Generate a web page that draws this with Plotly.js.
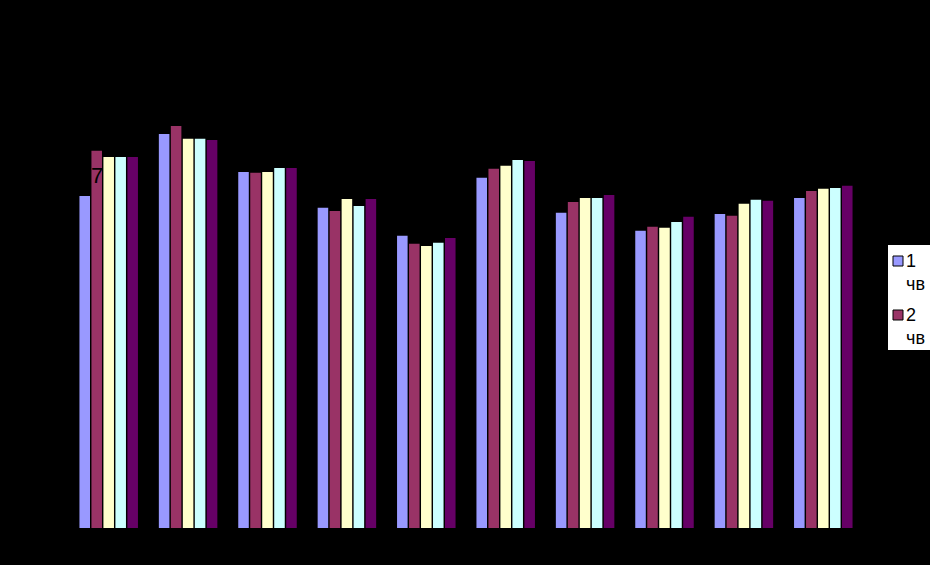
<!DOCTYPE html>
<html>
<head>
<meta charset="utf-8">
<script src="https://cdn.plot.ly/plotly-3.0.1.min.js"></script>
<style>html,body{margin:0;padding:0;background:#000;}</style>
</head>
<body>
<div id="chart" style="width:930px;height:565px;"></div>
<script>
const categories = ["1", "2", "3", "4", "5", "6", "7", "8", "9", "10"];
const seriesNames = ["1<br>чв", "2<br>чв", "3<br>чв", "4<br>чв", "год"];
const s1 = [7.50, 8.90, 8.04, 7.23, 6.60, 7.91, 7.12, 6.71, 7.09, 7.45];
const s2 = [8.52, 9.08, 8.02, 7.16, 6.42, 8.11, 7.36, 6.80, 7.05, 7.61];
const s3 = [8.38, 8.79, 8.04, 7.43, 6.37, 8.18, 7.45, 6.78, 7.32, 7.66];
const s4 = [8.38, 8.79, 8.13, 7.27, 6.44, 8.31, 7.45, 6.91, 7.41, 7.68];
const s5 = [8.38, 8.76, 8.13, 7.43, 6.55, 8.29, 7.52, 7.03, 7.39, 7.73];
const colors = ["#9999FF", "#993366", "#FFFFCC", "#CCFFFF", "#660066"];
const allSeries = [s1, s2, s3, s4, s5];

const traces = allSeries.map((vals, i) => ({
  type: "bar",
  x: categories,
  y: vals,
  name: seriesNames[i],
  marker: { color: colors[i], line: { width: 0 } },
  showlegend: false
}));

// plot area in pixels: x 69..863, y 40..528
const PL = 69, PW = 794, PB = 528, PH = 488;
const px = v => (v - PL) / PW;
const py = v => (PB - v) / PH;

const legendFont = { family: "Liberation Sans, Arial, sans-serif", size: 18, color: "#000000" };
const shapes = [
  { type: "rect", xref: "paper", yref: "paper", layer: "above",
    x0: px(888), x1: px(940), y0: py(350), y1: py(245),
    fillcolor: "#FFFFFF", line: { width: 0 } }
];
const annotations = [{
  x: -0.145, y: 7.95, xref: "x", yref: "y",
  text: "7", showarrow: false,
  font: { family: "Liberation Sans, Arial, sans-serif", size: 22, color: "#000000" }
}];
const legendTops = [256, 310];
[0, 1].forEach(i => {
  const t = legendTops[i];
  shapes.push({ type: "rect", xref: "paper", yref: "paper", layer: "above",
    x0: px(893), x1: px(903), y0: py(t + 10), y1: py(t),
    fillcolor: colors[i], line: { color: "#000000", width: 1 } });
  annotations.push({
    xref: "paper", yref: "paper", x: px(904), y: py(t - 7),
    xanchor: "left", yanchor: "top", align: "left",
    text: seriesNames[i], showarrow: false, font: legendFont
  });
});

const layout = {
  width: 930,
  height: 565,
  paper_bgcolor: "#000000",
  plot_bgcolor: "#000000",
  margin: { l: PL, r: 930 - PL - PW, t: PB - PH, b: 565 - PB, autoexpand: false },
  barmode: "group",
  bargap: 0.245,
  bargroupgap: 0.12,
  showlegend: false,
  font: { family: "Liberation Sans, Arial, sans-serif", color: "#000000" },
  xaxis: {
    type: "category",
    showgrid: false, zeroline: false, showline: false,
    tickfont: { color: "#000000", size: 12 }
  },
  yaxis: {
    range: [0, 11.02],
    showgrid: false, zeroline: false, showline: false,
    tickfont: { color: "#000000", size: 12 }
  },
  shapes: shapes,
  annotations: annotations
};

Plotly.newPlot("chart", traces, layout, { displayModeBar: false, staticPlot: true });
</script>
</body>
</html>
